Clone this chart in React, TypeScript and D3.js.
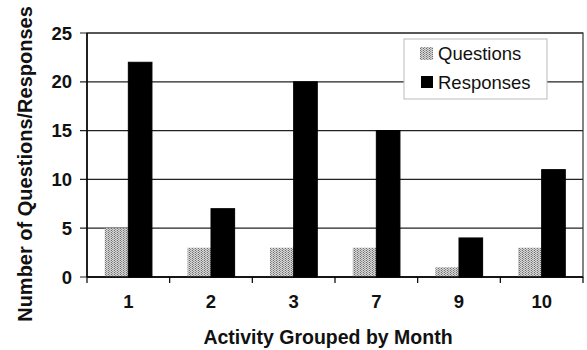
import React from "react";
import * as d3 from "d3";

const categories = ["1", "2", "3", "7", "9", "10"];
const questions = [5, 3, 3, 3, 1, 3];
const responses = [22, 7, 20, 15, 4, 11];
const yTicks = [0, 5, 10, 15, 20, 25];
const seriesNames = ["Questions", "Responses"];

export default function App() {
  const W = 587, H = 350;
  const left = 87, right = 583, top = 33, bottom = 277;
  const x = d3.scaleBand<string>().domain(categories).range([left, right]).paddingInner(0).paddingOuter(0);
  const y = d3.scaleLinear().domain([0, 25]).range([bottom, top]);
  const bw = x.bandwidth();
  const barW = bw / 3.5;
  const gap = (bw - 2 * barW) / 2;
  const font = "Arial, 'Liberation Sans', Helvetica, sans-serif";

  return (
    <svg width={W} height={H} style={{ position: "absolute", left: 0, top: 0, background: "#fff" }}>
      <defs>
        <pattern id="dots" width="3" height="2" patternUnits="userSpaceOnUse">
          <rect width="3" height="2" fill="#d8d8d8" />
          <rect x="0" y="0" width="1" height="1" fill="#6e6e6e" />
          <rect x="1" y="1" width="1" height="1" fill="#8e8e8e" />
          <rect x="2" y="0" width="1" height="2" fill="#c4c4c4" />
        </pattern>
      </defs>
      <rect x={0} y={0} width={W} height={H} fill="#fff" />
      {yTicks.map((t) => (
        <line key={"g" + t} x1={left - 7} x2={right} y1={y(t)} y2={y(t)} stroke="#222" strokeWidth={1.2} />
      ))}
      <rect x={left} y={top} width={right - left} height={bottom - top} fill="none" stroke="#333" strokeWidth={1.2} />
      {categories.map((c, i) => {
        const x0 = (x(c) as number) + gap;
        return (
          <g key={c}>
            <rect x={x0} y={y(questions[i])} width={barW} height={bottom - y(questions[i])} fill="url(#dots)" />
            <rect x={x0 + barW} y={y(responses[i])} width={barW} height={bottom - y(responses[i])} fill="#000" stroke="#000" strokeWidth={1} />
          </g>
        );
      })}
      <line x1={left} x2={left} y1={top} y2={bottom} stroke="#000" strokeWidth={1.5} />
      <line x1={left} x2={right} y1={bottom} y2={bottom} stroke="#000" strokeWidth={1.5} />
      {categories.map((c) => (
        <line key={"xt" + c} x1={x(c) as number} x2={x(c) as number} y1={bottom} y2={bottom + 6} stroke="#000" strokeWidth={1.2} />
      ))}
      <line x1={right} x2={right} y1={bottom} y2={bottom + 6} stroke="#000" strokeWidth={1.2} />
      {yTicks.map((t) => (
        <text key={"yl" + t} x={72} y={y(t)} dy="0.36em" textAnchor="end" fontFamily={font} fontWeight="bold" fontSize={18.5} fill="#111">
          {t}
        </text>
      ))}
      {categories.map((c) => (
        <text key={"xl" + c} x={(x(c) as number) + bw / 2} y={308} textAnchor="middle" fontFamily={font} fontWeight="bold" fontSize={18.5} fill="#111">
          {c}
        </text>
      ))}
      <text x={328} y={344} textAnchor="middle" fontFamily={font} fontWeight="bold" fontSize={19.5} fill="#111">
        Activity Grouped by Month
      </text>
      <text transform={`translate(32,164) rotate(-90)`} textAnchor="middle" fontFamily={font} fontWeight="bold" fontSize={20} fill="#111">
        Number of Questions/Responses
      </text>
      <rect x={404} y={39} width={143} height={60} fill="#fff" stroke="#bbb" strokeWidth={1} />
      <rect x={420} y={47} width={13} height={13} fill="url(#dots)" />
      <rect x={421} y={76} width={12} height={12} fill="#000" />
      <text x={438} y={60} fontFamily={font} fontSize={18.5} fill="#111">{seriesNames[0]}</text>
      <text x={438} y={88.5} fontFamily={font} fontSize={18.5} fill="#111">{seriesNames[1]}</text>
    </svg>
  );
}
